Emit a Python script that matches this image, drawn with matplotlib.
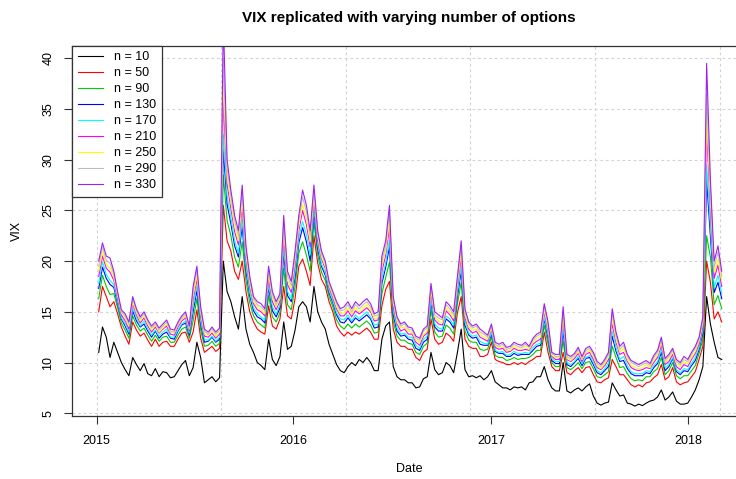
import matplotlib
matplotlib.use('Agg')
import matplotlib.pyplot as plt
import pandas as pd

plt.rcParams['font.family'] = ['Liberation Sans', 'DejaVu Sans']

dates = pd.date_range('2015-01-05', periods=166, freq='7D')

n10 = [11.0, 13.5, 12.5, 10.5, 12.0, 11.0, 10.0, 9.3, 8.7, 10.5,
       9.8, 9.2, 9.9, 8.9, 8.7, 9.4, 8.6, 9.1, 9.0, 8.5,
       8.6, 9.2, 9.8, 10.2, 8.7, 9.5, 12.0, 10.5, 8.0, 8.3,
       8.6, 8.1, 8.5, 20.0, 17.0, 16.0, 14.5, 13.3, 16.5, 13.3,
       11.8, 11.0, 10.0, 9.7, 9.3, 12.3, 10.3, 9.7, 10.6, 14.0,
       11.3, 11.6, 13.2, 15.5, 16.0, 15.5, 14.0, 17.5, 15.0, 14.0,
       13.3, 11.8, 10.8, 9.8, 9.2, 9.0, 9.6, 10.0, 9.7, 10.3,
       10.0, 10.5, 10.0, 9.2, 9.2, 12.3, 13.6, 14.0, 9.6, 8.6,
       8.3, 8.3, 8.0, 8.0, 7.5, 7.6, 8.4, 8.6, 11.0, 9.3,
       8.8, 9.0, 10.0, 9.7, 9.0, 11.0, 13.3, 9.3, 8.6, 8.7,
       8.5, 8.7, 8.3, 8.6, 9.2, 8.1, 7.8, 7.5, 7.5, 7.3,
       7.6, 7.5, 7.6, 7.3, 8.0, 8.1, 8.6, 8.6, 9.6, 8.3,
       7.5, 7.2, 7.2, 10.0, 7.2, 7.0, 7.3, 7.5, 7.2, 7.6,
       7.9, 6.7, 6.0, 5.8, 6.0, 6.1, 8.0, 7.3, 6.7, 6.8,
       6.0, 5.9, 5.7, 5.9, 5.75, 6.0, 6.2, 6.3, 6.6, 7.3,
       6.3, 6.6, 7.1, 6.2, 5.9, 5.9, 6.0, 6.6, 7.3, 8.3,
       9.6, 16.5, 13.8, 12.0, 10.5, 10.3]

n50 = [15.0, 17.5, 16.5, 15.5, 16.0, 14.8, 13.5, 12.6, 11.8, 14.0,
       13.2, 12.6, 12.9, 12.2, 11.6, 12.3, 11.6, 12.0, 12.1, 11.6,
       11.6, 12.3, 12.9, 13.0, 12.0, 13.0, 15.2, 12.4, 11.0, 11.3,
       11.6, 11.1, 11.4, 25.5, 22.0, 21.0, 19.0, 18.2, 20.0, 17.0,
       15.0, 14.0, 13.3, 13.0, 12.8, 15.6, 13.6, 13.3, 14.3, 17.5,
       14.6, 14.3, 16.3, 19.5, 20.2, 19.0, 17.6, 22.5, 19.8, 18.2,
       17.5, 16.0, 15.0, 13.6, 13.0, 12.6, 13.0, 12.7, 13.0, 12.8,
       13.1, 13.4, 13.0, 12.3, 12.3, 15.6, 17.2, 18.0, 13.3, 12.0,
       11.6, 11.6, 11.3, 11.3, 10.5, 10.2, 11.0, 11.3, 14.3, 12.3,
       11.8, 12.0, 12.9, 12.6, 12.1, 14.9, 16.5, 12.3, 11.6, 11.4,
       11.4, 10.6, 10.6, 10.8, 12.0, 10.3, 10.1, 10.0, 9.8, 9.8,
       10.0, 9.8, 10.0, 9.8, 10.1, 10.3, 10.6, 10.6, 13.0, 11.0,
       9.6, 9.2, 9.2, 11.0, 9.0, 8.8, 9.2, 9.5, 9.0, 9.5,
       9.6, 8.8, 8.1, 8.0, 8.3, 8.5, 10.3, 9.6, 8.8, 8.8,
       8.3, 7.8, 7.6, 7.8, 7.6, 8.0, 8.1, 8.5, 8.8, 9.8,
       8.3, 8.6, 9.5, 8.1, 7.8, 8.0, 8.1, 8.6, 9.1, 10.3,
       11.6, 20.0, 17.9, 14.3, 15.0, 14.0]

n90 = [16.3, 18.6, 17.5, 16.7, 16.8, 15.4, 13.9, 13.2, 12.4, 14.6,
       13.7, 13.1, 13.4, 12.7, 12.1, 12.7, 12.1, 12.5, 12.6, 12.0,
       12.0, 12.7, 13.3, 13.5, 12.4, 14.1, 16.3, 13.2, 11.6, 11.7,
       12.1, 11.6, 11.9, 28.5, 24.0, 22.5, 20.4, 19.4, 21.9, 18.1,
       15.9, 14.6, 14.0, 13.7, 13.4, 16.6, 14.5, 14.0, 14.9, 19.3,
       15.7, 15.2, 17.5, 20.8, 21.9, 20.6, 19.0, 23.8, 20.6, 18.9,
       18.1, 16.5, 15.5, 14.2, 13.6, 13.3, 13.8, 13.4, 13.8, 13.5,
       13.8, 14.1, 13.7, 12.9, 13.0, 16.8, 18.4, 19.9, 14.1, 12.6,
       12.2, 12.2, 11.9, 11.8, 11.0, 10.8, 11.6, 11.9, 15.2, 13.0,
       12.5, 12.6, 13.7, 13.4, 12.8, 15.8, 17.9, 13.1, 12.2, 12.0,
       12.0, 11.3, 11.2, 11.3, 12.5, 10.7, 10.5, 10.5, 10.2, 10.3,
       10.5, 10.3, 10.4, 10.4, 10.5, 10.8, 11.2, 11.2, 13.7, 11.8,
       10.0, 9.6, 9.6, 12.1, 9.5, 9.3, 9.6, 10.0, 9.4, 10.0,
       10.1, 9.4, 8.6, 8.5, 8.8, 9.1, 11.6, 10.5, 9.5, 9.6,
       8.9, 8.4, 8.2, 8.3, 8.2, 8.6, 8.6, 9.1, 9.4, 10.5,
       8.8, 9.2, 10.0, 8.7, 8.4, 8.7, 8.7, 9.2, 9.7, 10.9,
       12.3, 22.5, 20.4, 15.7, 16.6, 15.3]

n130 = [17.3, 19.4, 18.3, 17.7, 17.4, 15.8, 14.3, 13.6, 12.8, 15.1,
        14.1, 13.5, 13.8, 13.1, 12.5, 13.1, 12.4, 12.8, 13.0, 12.4,
        12.3, 13.1, 13.7, 13.9, 12.7, 15.0, 17.1, 13.8, 12.0, 12.1,
        12.5, 12.0, 12.3, 31.0, 25.6, 23.7, 21.5, 20.4, 23.4, 19.0,
        16.6, 15.1, 14.5, 14.3, 13.9, 17.4, 15.1, 14.5, 15.4, 20.7,
        16.6, 16.0, 18.4, 21.8, 23.3, 21.9, 20.0, 24.8, 21.2, 19.5,
        18.6, 16.9, 15.9, 14.7, 14.0, 13.9, 14.4, 13.9, 14.4, 14.1,
        14.4, 14.7, 14.3, 13.4, 13.5, 17.8, 19.4, 21.4, 14.7, 13.1,
        12.6, 12.7, 12.3, 12.2, 11.4, 11.2, 12.0, 12.3, 15.9, 13.5,
        13.1, 13.1, 14.3, 14.0, 13.4, 16.5, 19.0, 13.7, 12.7, 12.4,
        12.5, 11.8, 11.7, 11.7, 12.8, 11.1, 10.9, 10.9, 10.6, 10.6,
        10.9, 10.7, 10.8, 10.8, 10.8, 11.2, 11.6, 11.7, 14.3, 12.4,
        10.2, 9.9, 9.9, 13.0, 9.8, 9.6, 10.0, 10.4, 9.7, 10.4,
        10.5, 9.8, 9.0, 8.8, 9.2, 9.6, 12.6, 11.1, 10.1, 10.2,
        9.4, 8.9, 8.7, 8.7, 8.7, 9.0, 8.9, 9.5, 9.9, 11.0,
        9.2, 9.6, 10.4, 9.1, 8.8, 9.2, 9.1, 9.7, 10.2, 11.3,
        12.9, 28.0, 22.4, 16.9, 17.9, 16.3]

n170 = [17.8, 19.9, 18.7, 18.1, 17.7, 16.0, 14.4, 13.8, 13.0, 15.4,
        14.4, 13.6, 14.1, 13.3, 12.7, 13.2, 12.6, 13.0, 13.3, 12.5,
        12.5, 13.2, 13.8, 14.1, 12.9, 15.5, 17.6, 14.1, 12.3, 12.2,
        12.6, 12.1, 12.5, 32.5, 26.4, 24.3, 22.0, 20.8, 24.1, 19.5,
        16.9, 15.4, 14.8, 14.5, 14.2, 17.7, 15.5, 14.8, 15.7, 21.4,
        17.0, 16.3, 18.9, 22.3, 23.9, 22.6, 20.6, 25.3, 21.6, 19.7,
        18.9, 17.1, 16.1, 14.9, 14.3, 14.2, 14.7, 14.1, 14.7, 14.3,
        14.7, 15.0, 14.5, 13.7, 13.8, 18.3, 19.8, 22.1, 15.1, 13.4,
        12.8, 12.9, 12.5, 12.5, 11.7, 11.4, 12.3, 12.6, 16.2, 13.8,
        13.4, 13.3, 14.6, 14.3, 13.7, 16.9, 19.5, 14.0, 12.9, 12.6,
        12.7, 12.1, 11.9, 11.8, 13.0, 11.2, 11.0, 11.1, 10.7, 10.8,
        11.1, 10.9, 10.9, 11.0, 10.9, 11.5, 11.8, 11.9, 14.5, 12.7,
        10.4, 10.1, 10.1, 13.5, 10.0, 9.8, 10.1, 10.6, 9.9, 10.5,
        10.7, 10.0, 9.2, 9.0, 9.4, 9.9, 13.1, 11.5, 10.3, 10.6,
        9.7, 9.1, 8.9, 8.9, 8.9, 9.2, 9.1, 9.7, 10.1, 11.3,
        9.5, 9.8, 10.5, 9.3, 9.0, 9.4, 9.3, 9.9, 10.5, 11.5,
        13.2, 29.5, 23.5, 17.4, 18.6, 16.8]

n210 = [18.5, 20.5, 19.3, 18.9, 18.1, 16.3, 14.7, 14.1, 13.3, 15.8,
        14.7, 13.9, 14.4, 13.6, 13.0, 13.5, 12.9, 13.3, 13.6, 12.8,
        12.7, 13.5, 14.1, 14.4, 13.1, 16.2, 18.2, 14.6, 12.6, 12.5,
        12.9, 12.4, 12.8, 36.0, 27.6, 25.2, 22.9, 21.6, 25.3, 20.2,
        17.5, 15.8, 15.2, 15.0, 14.6, 18.3, 16.0, 15.2, 16.1, 22.4,
        17.7, 16.9, 19.6, 23.0, 25.0, 23.6, 21.4, 26.0, 22.0, 20.2,
        19.3, 17.4, 16.4, 15.3, 14.6, 14.6, 15.1, 14.5, 15.1, 14.8,
        15.1, 15.4, 15.0, 14.1, 14.2, 19.0, 20.6, 23.3, 15.5, 13.8,
        13.1, 13.3, 12.8, 12.8, 12.0, 11.7, 12.6, 12.9, 16.8, 14.2,
        13.8, 13.7, 15.1, 14.7, 14.1, 17.4, 20.4, 14.4, 13.3, 12.9,
        13.1, 12.5, 12.3, 12.1, 13.3, 11.5, 11.3, 11.4, 11.0, 11.1,
        11.4, 11.2, 11.2, 11.3, 11.2, 11.8, 12.1, 12.3, 15.0, 13.1,
        10.6, 10.3, 10.3, 14.2, 10.3, 10.1, 10.4, 10.9, 10.1, 10.8,
        11.0, 10.3, 9.5, 9.3, 9.7, 10.3, 13.8, 12.0, 10.8, 11.0,
        10.1, 9.5, 9.3, 9.2, 9.3, 9.5, 9.4, 10.0, 10.5, 11.7,
        9.8, 10.1, 10.8, 9.6, 9.3, 9.8, 9.6, 10.3, 10.9, 11.8,
        13.6, 33.0, 25.0, 18.3, 19.6, 17.5]

n250 = [19.0, 20.9, 19.7, 19.3, 18.4, 16.6, 14.9, 14.4, 13.6, 16.0,
        14.9, 14.1, 14.6, 13.8, 13.2, 13.7, 13.0, 13.4, 13.8, 13.0,
        12.9, 13.7, 14.3, 14.6, 13.3, 16.6, 18.6, 14.9, 12.8, 12.7,
        13.1, 12.6, 13.0, 38.0, 28.4, 25.8, 23.4, 22.0, 26.0, 20.6,
        17.8, 16.0, 15.5, 15.2, 14.8, 18.7, 16.3, 15.5, 16.3, 23.1,
        18.1, 17.3, 20.1, 23.5, 25.6, 24.2, 21.9, 26.5, 22.4, 20.4,
        19.5, 17.6, 16.6, 15.5, 14.8, 14.9, 15.4, 14.8, 15.4, 15.0,
        15.4, 15.7, 15.2, 14.3, 14.5, 19.5, 21.0, 24.0, 15.9, 14.0,
        13.4, 13.5, 13.1, 13.0, 12.2, 12.0, 12.8, 13.1, 17.1, 14.5,
        14.1, 13.9, 15.4, 15.0, 14.4, 17.8, 20.9, 14.7, 13.5, 13.2,
        13.3, 12.8, 12.5, 12.3, 13.4, 11.7, 11.5, 11.6, 11.2, 11.2,
        11.6, 11.4, 11.4, 11.6, 11.3, 12.0, 12.4, 12.5, 15.2, 13.4,
        10.7, 10.5, 10.5, 14.6, 10.4, 10.2, 10.6, 11.1, 10.3, 11.0,
        11.2, 10.6, 9.7, 9.4, 9.9, 10.5, 14.3, 12.3, 11.0, 11.4,
        10.3, 9.7, 9.5, 9.4, 9.5, 9.8, 9.5, 10.3, 10.7, 12.0,
        10.0, 10.4, 11.0, 9.9, 9.6, 10.1, 9.9, 10.5, 11.1, 12.1,
        13.9, 34.5, 26.0, 18.9, 20.2, 18.0]

n290 = [19.5, 21.4, 20.1, 19.8, 18.7, 16.8, 15.0, 14.6, 13.8, 16.3,
        15.1, 14.3, 14.8, 14.0, 13.4, 13.8, 13.2, 13.6, 14.0, 13.1,
        13.0, 13.8, 14.4, 14.8, 13.4, 17.1, 19.1, 15.2, 13.1, 12.8,
        13.3, 12.8, 13.2, 40.0, 29.2, 26.4, 24.0, 22.5, 26.8, 21.1,
        18.2, 16.3, 15.7, 15.5, 15.1, 19.1, 16.7, 15.7, 16.6, 23.8,
        18.6, 17.6, 20.5, 24.0, 26.3, 24.9, 22.5, 27.0, 22.7, 20.7,
        19.8, 17.8, 16.8, 15.8, 15.1, 15.2, 15.7, 15.0, 15.7, 15.3,
        15.7, 16.0, 15.5, 14.6, 14.7, 20.0, 21.5, 24.8, 16.2, 14.3,
        13.6, 13.8, 13.3, 13.2, 12.4, 12.2, 13.1, 13.4, 17.5, 14.7,
        14.4, 14.2, 15.7, 15.3, 14.7, 18.1, 21.5, 15.0, 13.8, 13.4,
        13.6, 13.0, 12.8, 12.5, 13.6, 11.8, 11.6, 11.8, 11.3, 11.4,
        11.8, 11.6, 11.5, 11.8, 11.5, 12.2, 12.6, 12.8, 15.5, 13.7,
        10.9, 10.6, 10.6, 15.1, 10.6, 10.4, 10.7, 11.3, 10.4, 11.2,
        11.4, 10.8, 9.9, 9.6, 10.1, 10.8, 14.8, 12.7, 11.3, 11.7,
        10.6, 10.0, 9.8, 9.6, 9.8, 10.0, 9.7, 10.5, 11.0, 12.2,
        10.2, 10.6, 11.2, 10.1, 9.8, 10.3, 10.1, 10.8, 11.4, 12.3,
        14.2, 36.5, 27.0, 19.4, 20.9, 18.5]

n330 = [20.0, 21.8, 20.5, 20.3, 19.0, 17.0, 15.2, 14.8, 14.0, 16.5,
        15.3, 14.5, 15.0, 14.2, 13.6, 14.0, 13.4, 13.8, 14.2, 13.3,
        13.2, 14.0, 14.6, 15.0, 13.6, 17.5, 19.5, 15.5, 13.3, 13.0,
        13.5, 13.0, 13.4, 44.0, 30.0, 27.0, 24.5, 23.0, 27.5, 21.5,
        18.5, 16.5, 16.0, 15.8, 15.3, 19.5, 17.0, 16.0, 16.8, 24.5,
        19.0, 18.0, 21.0, 24.5, 27.0, 25.5, 23.0, 27.5, 23.0, 21.0,
        20.0, 18.0, 17.0, 16.0, 15.3, 15.5, 16.0, 15.3, 16.0, 15.6,
        16.0, 16.3, 15.8, 14.8, 15.0, 20.5, 22.0, 25.5, 16.5, 14.5,
        13.8, 14.0, 13.5, 13.4, 12.6, 12.4, 13.3, 13.6, 17.8, 15.0,
        14.7, 14.4, 16.0, 15.6, 15.0, 18.5, 22.0, 15.3, 14.0, 13.6,
        13.8, 13.3, 13.0, 12.7, 13.8, 12.0, 11.8, 12.0, 11.5, 11.6,
        12.0, 11.8, 11.7, 12.0, 11.6, 12.4, 12.8, 13.0, 15.8, 14.0,
        11.0, 10.8, 10.8, 15.5, 10.8, 10.6, 10.9, 11.5, 10.6, 11.4,
        11.6, 11.0, 10.1, 9.8, 10.3, 11.0, 15.3, 13.0, 11.6, 12.0,
        10.8, 10.2, 10.0, 9.8, 10.0, 10.2, 9.9, 10.7, 11.2, 12.5,
        10.4, 10.8, 11.4, 10.3, 10.0, 10.6, 10.3, 11.0, 11.6, 12.5,
        14.5, 39.5, 28.0, 20.0, 21.5, 19.0]

labels = ['n = 10', 'n = 50', 'n = 90', 'n = 130', 'n = 170',
          'n = 210', 'n = 250', 'n = 290', 'n = 330']
colors = ['black', 'red', '#00CD00', 'blue', 'cyan',
          'magenta', 'yellow', '#BEBEBE', '#A020F0']
series = [n10, n50, n90, n130, n170, n210, n250, n290, n330]

year_ticks = pd.to_datetime(['2015-01-01', '2016-01-01', '2017-01-01', '2018-01-01'])
grid_x = pd.to_datetime(['2015-01-01', '2015-08-20', '2016-04-07',
                         '2016-11-24', '2017-07-13', '2018-03-01'])
y_ticks = [5, 10, 15, 20, 25, 30, 35, 40]

fig = plt.figure(figsize=(7.36, 4.79), dpi=100)
ax = fig.add_axes([0.0982, 0.1305, 0.9154, 0.7741])

for v in grid_x:
    ax.axvline(v, color='#D3D3D3', lw=0.8, ls=(0, (2.5, 2.5)), zorder=0)
for v in y_ticks:
    ax.axhline(v, color='#D3D3D3', lw=0.8, ls=(0, (2.5, 2.5)), zorder=0)

for vals, col, lab in zip(series, colors, labels):
    ax.plot(dates, vals, color=col, lw=0.8, label=lab)

ax.set_xlim(pd.Timestamp('2014-11-17'), pd.Timestamp('2018-04-19'))
ax.set_ylim(4.68, 41.24)

ax.set_xticks(year_ticks)
ax.set_xticklabels(['2015', '2016', '2017', '2018'])
ax.set_yticks(y_ticks)
ax.set_yticklabels([str(v) for v in y_ticks], rotation=90, va='center')
ax.tick_params(axis='both', length=6, width=0.8, labelsize=9, pad=7, color='#333333')

for s in ax.spines.values():
    s.set_linewidth(0.9)
    s.set_color('#333333')

ax.set_title('VIX replicated with varying number of options',
             fontsize=11, fontweight='bold', pad=17)
ax.set_xlabel('Date', fontsize=9, labelpad=12)
ax.set_ylabel('VIX', fontsize=9, labelpad=14)

leg = ax.legend(loc='upper left', borderaxespad=0, fontsize=9, frameon=True,
                fancybox=False, framealpha=1, edgecolor='#333333',
                handlelength=2.0, handletextpad=0.9, labelspacing=0.32,
                borderpad=0.45)
leg.get_frame().set_linewidth(0.9)

fig.savefig('out.png', dpi=100)
